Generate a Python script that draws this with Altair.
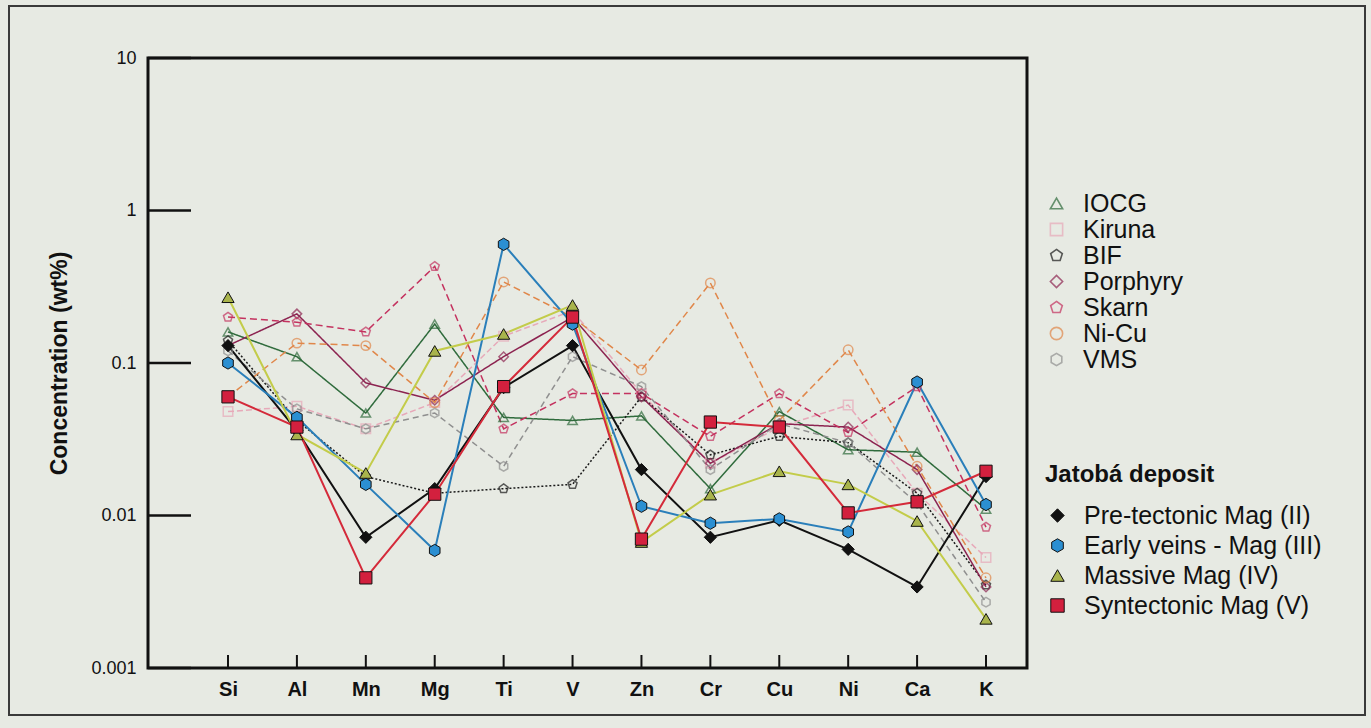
import altair as alt
import pandas as pd

elements = ["Si", "Al", "Mn", "Mg", "Ti", "V", "Zn", "Cr", "Cu", "Ni", "Ca", "K"]

# Literature deposit types
iocg = [0.16, 0.11, 0.047, 0.18, 0.044, 0.042, 0.045, 0.015, 0.048, 0.027, 0.026, 0.011]
kiruna = [0.048, 0.052, 0.037, 0.055, 0.15, 0.22, 0.063, 0.022, 0.038, 0.053, 0.014, 0.0053]
bif = [0.14, 0.042, 0.018, 0.014, 0.015, 0.016, 0.06, 0.025, 0.033, 0.03, 0.014, 0.0035]
porphyry = [0.13, 0.21, 0.074, 0.057, 0.11, 0.2, 0.06, 0.022, 0.04, 0.038, 0.02, 0.0034]
skarn = [0.2, 0.185, 0.16, 0.43, 0.037, 0.063, 0.063, 0.033, 0.063, 0.035, 0.07, 0.0084]
nicu = [0.06, 0.135, 0.13, 0.055, 0.34, 0.2, 0.09, 0.335, 0.042, 0.122, 0.021, 0.0039]
vms = [0.12, 0.05, 0.037, 0.047, 0.021, 0.11, 0.07, 0.02, 0.04, 0.03, 0.012, 0.0027]

# Jatobá deposit
pre_tectonic = [0.13, 0.036, 0.0072, 0.015, 0.069, 0.13, 0.02, 0.0072, 0.0093, 0.006, 0.0034, 0.018]
early_veins = [0.1, 0.044, 0.016, 0.0059, 0.6, 0.18, 0.0115, 0.0089, 0.0095, 0.0078, 0.075, 0.0118]
massive = [0.27, 0.034, 0.019, 0.12, 0.155, 0.24, 0.0067, 0.0137, 0.0195, 0.016, 0.0092, 0.0021]
syntectonic = [0.06, 0.038, 0.0039, 0.0138, 0.07, 0.2, 0.007, 0.041, 0.038, 0.0104, 0.0123, 0.0195]

lit_names = ["IOCG", "Kiruna", "BIF", "Porphyry", "Skarn", "Ni-Cu", "VMS"]
lit_values = [iocg, kiruna, bif, porphyry, skarn, nicu, vms]
lit_colors = ["#2f6b3c", "#e7a9b9", "#1a1a1a", "#8c2350", "#c4325f", "#e0874a", "#8f8f8f"]
PENT = "M0,-1L0.951,-0.309L0.588,0.809L-0.588,0.809L-0.951,-0.309Z"
HEX = "M0,-1L0.866,-0.5L0.866,0.5L0,1L-0.866,0.5L-0.866,-0.5Z"
lit_shapes = ["triangle-up", "square", PENT, "diamond", PENT, "circle", HEX]
lit_dash = [[1, 0], [6, 3], [2, 2], [1, 0], [7, 4], [7, 4], [6, 4]]

jat_names = ["Pre-tectonic Mag (II)", "Early veins - Mag (III)", "Massive Mag (IV)", "Syntectonic Mag (V)"]
jat_values = [pre_tectonic, early_veins, massive, syntectonic]
jat_colors = ["#111111", "#2b8fd2", "#a9b44c", "#d3203e"]
jat_line_colors = ["#111111", "#2a7fba", "#c3cc4a", "#d42a3a"]
jat_shapes = ["diamond", HEX, "triangle-up", "square"]

y_ticks = [0.001, 0.01, 0.1, 1, 10]

lit_rows = []
for name, vals in zip(lit_names, lit_values):
    for el, v in zip(elements, vals):
        lit_rows.append({"series": name, "element": el, "value": v})
lit_df = pd.DataFrame(lit_rows)

jat_rows = []
for name, vals in zip(jat_names, jat_values):
    for el, v in zip(elements, vals):
        jat_rows.append({"jseries": name, "element": el, "value": v})
jat_df = pd.DataFrame(jat_rows)

FONT = "Liberation Sans"

x_enc = alt.X(
    "element:N", sort=elements,
    scale=alt.Scale(type="point", range=[80, 838], padding=0),
    axis=alt.Axis(title=None, ticks=False, domain=False, labelAngle=0, labelFontSize=20,
                  labelFontWeight="bold", labelColor="#111", labelPadding=11, labelFont=FONT),
)
y_enc = alt.Y(
    "value:Q",
    scale=alt.Scale(type="log", domain=[0.001, 10]),
    axis=alt.Axis(title="Concentration (wt%)", values=y_ticks, format="~g", ticks=False,
                  domain=False, grid=False, labelFontSize=18, labelColor="#111",
                  labelPadding=12, labelFont=FONT, titleFont=FONT, titleFontSize=23,
                  titleFontWeight="bold", titleColor="#111", titlePadding=19),
)

lit_lines = alt.Chart(lit_df).mark_line(strokeWidth=1.5).encode(
    x=x_enc, y=y_enc,
    color=alt.Color("series:N", scale=alt.Scale(domain=lit_names, range=lit_colors), legend=None),
    strokeDash=alt.StrokeDash("series:N", scale=alt.Scale(domain=lit_names, range=lit_dash), legend=None),
    order=alt.Order("series:N"),
)

jat_lines = alt.Chart(jat_df).mark_line(strokeWidth=2).encode(
    x=x_enc, y=y_enc,
    color=alt.Color("jseries:N", scale=alt.Scale(domain=jat_names, range=jat_line_colors), legend=None),
    detail="jseries:N",
)

lit_legend = alt.Legend(orient="none", legendX=896, legendY=133, labelFontSize=25, labelFont=FONT,
                        labelColor="#111", symbolSize=150, symbolStrokeWidth=1.6, rowPadding=0,
                        labelOffset=14, labelLimit=400)
lit_points = alt.Chart(lit_df).mark_point(filled=False, size=90, strokeWidth=1.5).encode(
    x=x_enc, y=y_enc,
    color=alt.Color("series:N", scale=alt.Scale(domain=lit_names, range=lit_colors),
                    legend=lit_legend, title=None),
    shape=alt.Shape("series:N", scale=alt.Scale(domain=lit_names, range=lit_shapes),
                    legend=lit_legend, title=None),
)

jat_legend = alt.Legend(orient="none", legendX=897, legendY=405, labelFontSize=25, labelFont=FONT,
                        labelColor="#111", titleFont=FONT, titleFontSize=24, titleFontWeight="bold",
                        titleColor="#111", titlePadding=16, symbolSize=180, symbolStrokeColor="#111",
                        symbolStrokeWidth=1, rowPadding=4, labelOffset=14, labelLimit=400)
jat_points = alt.Chart(jat_df).mark_point(filled=True, size=150, stroke="#111", strokeWidth=1, opacity=1).encode(
    x=x_enc, y=y_enc,
    color=alt.Color("jseries:N", scale=alt.Scale(domain=jat_names, range=jat_colors),
                    legend=jat_legend, title="Jatobá deposit"),
    shape=alt.Shape("jseries:N", scale=alt.Scale(domain=jat_names, range=jat_shapes),
                    legend=jat_legend, title="Jatobá deposit"),
)

ytick_df = pd.DataFrame({"value": y_ticks})
y_tick_rules = alt.Chart(ytick_df).mark_rule(color="#111", strokeWidth=2.5).encode(
    y=alt.Y("value:Q", scale=alt.Scale(type="log", domain=[0.001, 10])),
    x=alt.value(0), x2=alt.value(43),
)

xtick_df = pd.DataFrame({"element": elements})
x_tick_rules = alt.Chart(xtick_df).mark_rule(color="#111", strokeWidth=2).encode(
    x=alt.X("element:N", sort=elements, scale=alt.Scale(type="point", range=[80, 838], padding=0)),
    y=alt.value(597), y2=alt.value(610),
)

border = alt.Chart(pd.DataFrame({"b": [0]})).mark_rect(fill="transparent", stroke="#3a3a3a", strokeWidth=2).encode(
    x=alt.value(-139), x2=alt.value(1217), y=alt.value(-52), y2=alt.value(657),
)

chart = alt.layer(
    border, lit_lines, jat_lines, y_tick_rules, x_tick_rules, lit_points, jat_points
).resolve_scale(
    color="independent", shape="independent", strokeDash="independent"
).properties(
    width=879, height=610,
    autosize=alt.AutoSizeParams(type="none"),
    padding={"left": 148, "top": 58, "right": 344, "bottom": 60},
    background="#e7eae3",
).configure_view(
    stroke="#111", strokeWidth=3, fill="#e7eae3",
).configure_axis(
    grid=False,
)

chart.save("out.html", embed_options={"renderer": "svg", "actions": False})
